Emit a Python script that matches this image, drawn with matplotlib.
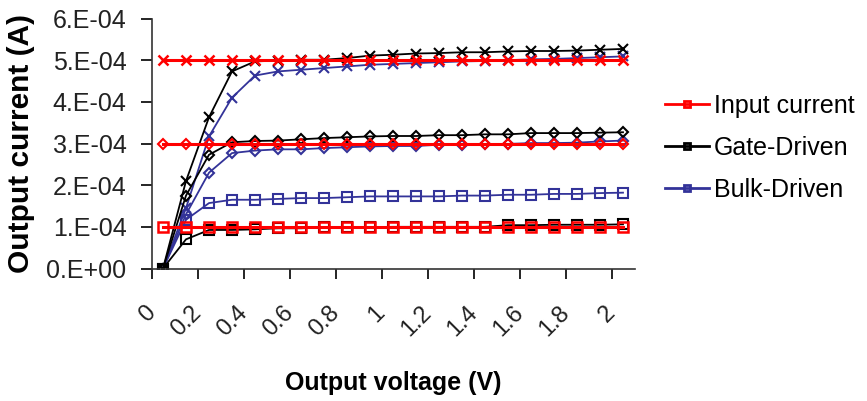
import matplotlib
matplotlib.use('Agg')
import matplotlib.pyplot as plt
import matplotlib.transforms as mtransforms
import numpy as np

plt.rcParams['font.family'] = ['Liberation Sans', 'DejaVu Sans']

# output voltage categories (V)
vout = [0, 0.1, 0.2, 0.3, 0.4, 0.5, 0.6, 0.7, 0.8, 0.9, 1.0,
        1.1, 1.2, 1.3, 1.4, 1.5, 1.6, 1.7, 1.8, 1.9, 2.0]

# input currents (A), flat references
input_100u = [1e-4] * 21
input_300u = [3e-4] * 21
input_500u = [5e-4] * 21

# gate-driven output currents (units of 1e-4 A)
gate_100u = [0, 0.70, 0.925, 0.925, 0.94, 0.965, 0.965, 0.99, 0.99, 0.99, 1.0,
             1.0, 1.0, 1.0, 1.0, 1.04, 1.04, 1.05, 1.05, 1.05, 1.06]
gate_300u = [0, 1.75, 2.73, 3.03, 3.06, 3.07, 3.10, 3.13, 3.15, 3.17, 3.18,
             3.18, 3.20, 3.20, 3.22, 3.22, 3.25, 3.25, 3.25, 3.26, 3.27]
gate_500u = [0, 2.10, 3.63, 4.73, 4.97, 4.99, 5.01, 5.01, 5.05, 5.11, 5.13,
             5.16, 5.17, 5.19, 5.19, 5.21, 5.22, 5.22, 5.23, 5.25, 5.27]

# bulk-driven output currents (units of 1e-4 A)
bulk_100u = [0, 1.17, 1.57, 1.65, 1.65, 1.67, 1.69, 1.69, 1.71, 1.73, 1.73,
             1.73, 1.73, 1.75, 1.75, 1.77, 1.77, 1.79, 1.79, 1.81, 1.82]
bulk_300u = [0, 1.30, 2.30, 2.77, 2.83, 2.86, 2.86, 2.89, 2.91, 2.93, 2.94,
             2.94, 2.97, 2.97, 2.99, 2.99, 3.01, 3.01, 3.02, 3.05, 3.07]
bulk_500u = [0, 1.45, 3.17, 4.10, 4.63, 4.73, 4.77, 4.81, 4.85, 4.89, 4.91,
             4.93, 4.95, 4.97, 4.98, 5.00, 5.02, 5.03, 5.05, 5.07, 5.09]

red = '#ff0000'
black = '#000000'
blue = '#333399'

x = np.arange(len(vout))
sc = 1e-4

fig = plt.figure(figsize=(8.67, 4.01), dpi=100)
ax = fig.add_axes([151.5/867, 1 - 268.5/401, 483/867, 250/401])

# bulk-driven
ax.plot(x, np.array(bulk_100u)*sc, color=blue, lw=1.3, marker='s', ms=7, mfc='none', mew=1.5)
ax.plot(x, np.array(bulk_300u)*sc, color=blue, lw=1.3, marker='D', ms=5, mfc='none', mew=1.5)
ax.plot(x, np.array(bulk_500u)*sc, color=blue, lw=1.3, marker='x', ms=7, mew=1.5)
# gate-driven
ax.plot(x, np.array(gate_100u)*sc, color=black, lw=1.3, marker='s', ms=7, mfc='none', mew=1.5)
ax.plot(x, np.array(gate_300u)*sc, color=black, lw=1.3, marker='D', ms=5, mfc='none', mew=1.5)
ax.plot(x, np.array(gate_500u)*sc, color=black, lw=1.3, marker='x', ms=7, mew=1.5)
# input current
ax.plot(x, input_100u, color=red, lw=2.2, marker='s', ms=7, mfc='none', mew=1.8)
ax.plot(x, input_300u, color=red, lw=2.2, marker='D', ms=5, mfc='none', mew=1.5)
ax.plot(x, input_500u, color=red, lw=2.2, marker='x', ms=7, mew=1.8)

ax.set_xlim(-0.5, len(vout) - 0.5)
ax.set_ylim(0, 6e-4)

yt = np.arange(0, 7) * 1e-4
ax.set_yticks(yt)
ax.set_yticklabels(['0.E+00', '1.E-04', '2.E-04', '3.E-04', '4.E-04', '5.E-04', '6.E-04'],
                   fontsize=18, color='#222222')

# tick marks between categories, labels on every other category
ax.set_xticks(np.arange(-0.5, len(vout) - 1, 2))
ax.set_xticklabels([])
lab_pos = x[::2]
ax.set_xticks(lab_pos, minor=True)
ax.set_xticklabels([f'{vout[i]:g}' for i in lab_pos], minor=True, fontsize=17,
                   rotation=45, ha='right', va='top', rotation_mode='anchor', color='#222222')
ax.tick_params(axis='x', which='minor', length=0, pad=24)
ax.tick_params(axis='y', which='major', length=8, width=1.2, direction='out', pad=10)
ax.tick_params(axis='x', which='major', length=7, width=1.2, direction='out')
shift = mtransforms.ScaledTranslation(-19/100, 0, fig.dpi_scale_trans)
for lbl in ax.get_xticklabels(minor=True):
    lbl.set_transform(lbl.get_transform() + shift)

for s in ['top', 'right']:
    ax.spines[s].set_visible(False)
for s in ['left', 'bottom']:
    ax.spines[s].set_linewidth(1.2)
    ax.spines[s].set_color('#333333')

ax.set_xlabel('Output voltage (V)', fontsize=18, fontweight='bold', labelpad=22)
ax.set_ylabel('Output current (A)', fontsize=21.5, fontweight='bold', labelpad=8)

h1, = ax.plot([], [], color=red, lw=2, marker='s', ms=5, mfc='none', mew=2)
h2, = ax.plot([], [], color=black, lw=2, marker='s', ms=5, mfc='none', mew=2)
h3, = ax.plot([], [], color=blue, lw=2, marker='s', ms=5, mfc='none', mew=2)
fig.legend([h1, h2, h3], ['Input current', 'Gate-Driven', 'Bulk-Driven'],
           loc='center left', bbox_to_anchor=(665/867, 1 - 148/401), frameon=False,
           fontsize=18, handlelength=1.75, handletextpad=0.2, labelspacing=0.72,
           borderpad=0, borderaxespad=0)

fig.savefig('out.png', dpi=100)
